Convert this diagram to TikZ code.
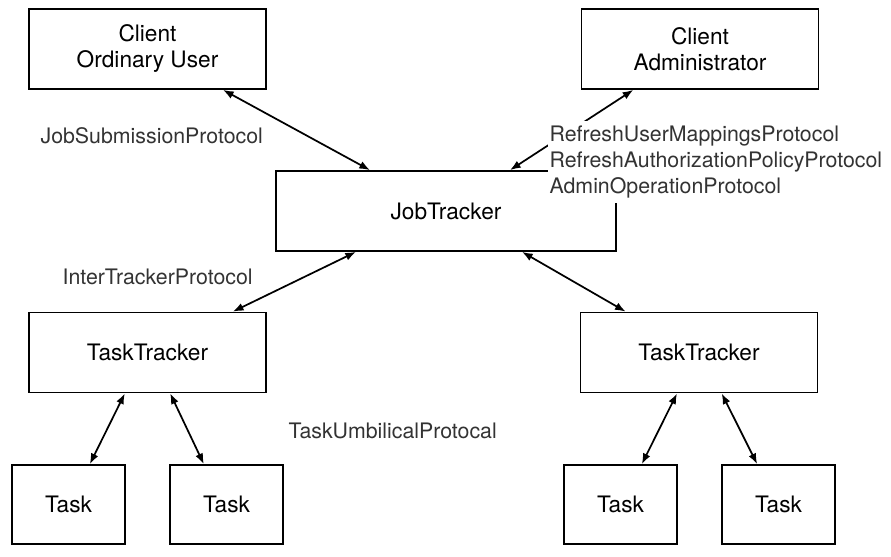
\documentclass[tikz,border=0pt]{standalone}
\usepackage{fontspec}
\setmainfont{TeX Gyre Heros}
\usepackage{xcolor}
\usepackage{tikz}
\usetikzlibrary{arrows.meta}

\begin{document}
\begin{tikzpicture}[x=0.75pt,y=-0.75pt,
     box/.style={draw, line width=1.3pt, align=center, inner sep=0pt,
       font=\fontsize{17}{19.5}\selectfont},
     bigbox/.style={box, minimum width=177.75pt, minimum height=60pt},
     taskbox/.style={box, minimum width=84.75pt, minimum height=59.25pt},
     lbl/.style={anchor=west, text=black!80, inner sep=1pt,
       font=\fontsize{16}{19.5}\selectfont},
     conn/.style={{Latex[length=8pt,width=6pt]}-{Latex[length=8pt,width=6pt]}, line width=1.3pt}]
     \useasboundingbox (0,0) rectangle (891,556);
     % boxes
     \node[bigbox] (ou) at (147.5,49) {Client\\Ordinary User};
     \node[bigbox] (adm) at (700,49) {Client\\Administrator};
     \node[box, minimum width=255pt, minimum height=60pt] (jt) at (446,211) {JobTracker};
     \node[bigbox] (ttl) at (147.5,352.5) {TaskTracker};
     \node[bigbox] (ttr) at (699,352.5) {TaskTracker};
     \node[taskbox] (t1) at (68.5,504.5) {Task};
     \node[taskbox] (t2) at (226.5,504.5) {Task};
     \node[taskbox] (t3) at (620.5,504.5) {Task};
     \node[taskbox] (t4) at (778.5,504.5) {Task};
     % connectors
     \draw[conn] ([xshift=56.6pt]ou.south) -- ([xshift=-57pt]jt.north);
     \draw[conn] ([xshift=-50pt]adm.south) -- ([xshift=48pt]jt.north);
     \draw[conn] ([xshift=-67.5pt]jt.south) -- ([xshift=64pt]ttl.north);
     \draw[conn] ([xshift=57pt]jt.south) -- ([xshift=-55pt]ttr.north);
     \draw[conn] ([xshift=-17pt]ttl.south) -- ([xshift=16pt]t1.north);
     \draw[conn] ([xshift=17pt]ttl.south) -- ([xshift=-17pt]t2.north);
     \draw[conn] ([xshift=-16.5pt]ttr.south) -- ([xshift=16pt]t3.north);
     \draw[conn] ([xshift=17pt]ttr.south) -- ([xshift=-16pt]t4.north);
     % labels
     \node[lbl] (jsp) at (39,136) {JobSubmissionProtocol};
     \node[lbl] (itp) at (61,277) {InterTrackerProtocol};
     \node[lbl] (tup) at (287,431) {TaskUmbilicalProtocal};
     \node[lbl, align=left, fill=white, inner ysep=4pt] (adp) at (548,162)
       {RefreshUserMappingsProtocol\\RefreshAuthorizationPolicyProtocol\\AdminOperationProtocol};
\end{tikzpicture}
\end{document}
